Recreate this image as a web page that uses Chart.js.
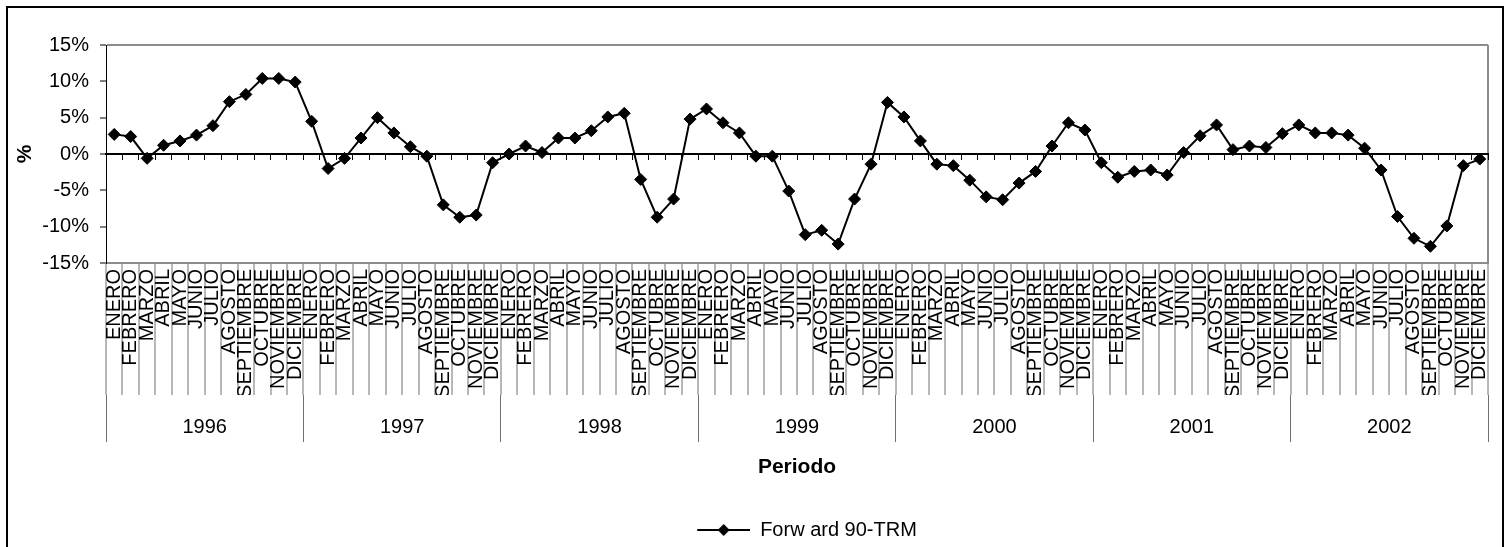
<!DOCTYPE html>
<html lang="es">
<head>
<meta charset="utf-8">
<title>Forward 90-TRM</title>
<script src="https://cdn.jsdelivr.net/npm/chart.js@4.4.1/dist/chart.umd.min.js"></script>
<style>
    html, body { margin: 0; padding: 0; background: #fff; overflow: hidden; }
    #wrap { position: relative; width: 1511px; height: 547px; overflow: hidden; }
    #chart { position: absolute; left: 0; top: 0; }
    #frame {
        position: absolute; left: 6px; top: 6px; width: 1498px; height: 600px;
        border: 2px solid #000; box-sizing: border-box; pointer-events: none;
    }
</style>
</head>
<body>
<div id="wrap">
    <canvas id="chart" width="1511" height="550"></canvas>
    <div id="frame"></div>
</div>
<script>
// Forward 90 vs TRM, variación mensual (%)
const months = ['ENERO', 'FEBRERO', 'MARZO', 'ABRIL', 'MAYO', 'JUNIO', 'JULIO',
    'AGOSTO', 'SEPTIEMBRE', 'OCTUBRE', 'NOVIEMBRE', 'DICIEMBRE'];
const years = ['1996', '1997', '1998', '1999', '2000', '2001', '2002'];
const periodLabels = years.flatMap(() => months);

const fwd1996 = [2.7, 2.4, -0.6, 1.2, 1.8, 2.6, 3.9, 7.2, 8.2, 10.4, 10.4, 9.9];
const fwd1997 = [4.5, -2.0, -0.6, 2.2, 5.0, 2.9, 1.0, -0.3, -7.0, -8.7, -8.4, -1.2];
const fwd1998 = [0.0, 1.1, 0.2, 2.2, 2.2, 3.2, 5.1, 5.6, -3.5, -8.7, -6.2, 4.8];
const fwd1999 = [6.2, 4.3, 2.9, -0.3, -0.3, -5.1, -11.1, -10.5, -12.4, -6.2, -1.4, 7.1];
const fwd2000 = [5.1, 1.8, -1.4, -1.6, -3.6, -5.9, -6.3, -4.0, -2.4, 1.1, 4.3, 3.3];
const fwd2001 = [-1.2, -3.2, -2.4, -2.2, -2.9, 0.2, 2.5, 4.0, 0.6, 1.1, 0.9, 2.8];
const fwd2002 = [4.0, 2.9, 2.9, 2.6, 0.8, -2.2, -8.6, -11.6, -12.7, -9.9, -1.6, -0.7];
const forwardValues = [].concat(fwd1996, fwd1997, fwd1998, fwd1999, fwd2000, fwd2001, fwd2002);

const yTicks = [-15, -10, -5, 0, 5, 10, 15];

const FRAME_GRAY = '#8c8c8c';
const SEP_GRAY = '#707070';

Chart.defaults.font.family = '"Liberation Sans", Arial, sans-serif';
Chart.defaults.font.size = 20;
Chart.defaults.color = '#000';

// icono de leyenda: línea con rombo
function legendIcon() {
    const c = document.createElement('canvas');
    c.width = 73;
    c.height = 14;
    const g = c.getContext('2d');
    g.strokeStyle = '#000';
    g.lineWidth = 2;
    g.beginPath();
    g.moveTo(20, 7);
    g.lineTo(73, 7);
    g.stroke();
    g.fillStyle = '#000';
    g.beginPath();
    g.moveTo(46.5, 1);
    g.lineTo(52.5, 7);
    g.lineTo(46.5, 13);
    g.lineTo(40.5, 7);
    g.closePath();
    g.fill();
    return c;
}

new Chart(document.getElementById('chart'), {
    type: 'line',
    data: {
        labels: periodLabels,
        datasets: [{
            label: 'Forw ard 90-TRM',
            data: forwardValues,
            xAxisID: 'x',
            yAxisID: 'y',
            borderColor: '#000',
            borderWidth: 2,
            tension: 0,
            pointStyle: 'rectRot',
            pointRadius: 6,
            pointBackgroundColor: '#000',
            pointBorderColor: '#000',
            pointBorderWidth: 1,
            clip: false
        }]
    },
    options: {
        responsive: false,
        animation: false,
        layout: { padding: { top: 45, right: 23, bottom: 0, left: 0 } },
        plugins: {
            tooltip: { enabled: false },
            legend: {
                position: 'bottom',
                fullSize: false,
                labels: {
                    usePointStyle: true,
                    pointStyle: legendIcon(),
                    pointStyleWidth: 73,
                    padding: 10,
                    color: '#000',
                    font: { size: 20 }
                }
            }
        },
        scales: {
            x: {
                type: 'category',
                position: 'bottom',
                weight: 0,
                offset: true,
                grid: {
                    offset: true,
                    drawOnChartArea: true,
                    color: ctx => ctx.tick ? 'rgba(0,0,0,0)' : FRAME_GRAY,
                    lineWidth: 2,
                    tickColor: SEP_GRAY,
                    tickWidth: 1,
                    tickLength: 132
                },
                border: { color: FRAME_GRAY, width: 2 },
                ticks: {
                    autoSkip: false,
                    minRotation: 90,
                    maxRotation: 90,
                    padding: -126,
                    color: '#000',
                    font: { size: 20 }
                },
                afterFit: scale => { scale.height = 132; }
            },
            years: {
                type: 'category',
                axis: 'x',
                position: 'bottom',
                weight: 1,
                labels: years,
                offset: true,
                grid: {
                    offset: true,
                    drawOnChartArea: false,
                    tickColor: SEP_GRAY,
                    tickWidth: 1,
                    tickLength: 47
                },
                border: { display: false },
                ticks: {
                    autoSkip: false,
                    maxRotation: 0,
                    padding: -27,
                    color: '#000',
                    font: { size: 20 }
                },
                title: {
                    display: true,
                    text: 'Periodo',
                    color: '#000',
                    font: { size: 21, weight: 'bold' },
                    padding: { top: 0, bottom: 30 }
                },
                afterFit: scale => { scale.height = 115; }
            },
            zero: {
                type: 'category',
                axis: 'x',
                position: { y: 0 },
                offset: true,
                grid: {
                    offset: true,
                    drawOnChartArea: false,
                    tickColor: '#000',
                    tickWidth: 1,
                    tickLength: 5
                },
                border: { color: '#000', width: 2 },
                ticks: { display: false }
            },
            y: {
                min: -15,
                max: 15,
                afterBuildTicks: scale => {
                    scale.ticks = yTicks.map(v => ({ value: v }));
                },
                grid: {
                    drawOnChartArea: true,
                    color: ctx => ctx.tick && ctx.tick.value === 15 ? FRAME_GRAY : 'rgba(0,0,0,0)',
                    lineWidth: 2,
                    tickColor: '#000',
                    tickWidth: 1,
                    tickLength: 6
                },
                border: { color: '#000', width: 1 },
                ticks: {
                    padding: 11,
                    color: '#000',
                    font: { size: 20 },
                    callback: value => `${value}%`
                },
                title: {
                    display: true,
                    text: '%',
                    color: '#000',
                    font: { size: 21, weight: 'bold' },
                    padding: { top: 13, bottom: 0 }
                },
                afterFit: scale => { scale.width = 106; }
            }
        }
    }
});
</script>
</body>
</html>
